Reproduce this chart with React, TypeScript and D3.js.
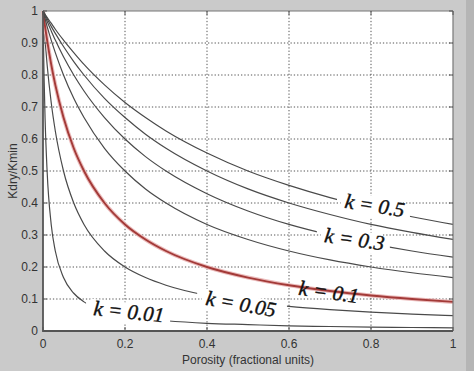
import React, { useEffect, useRef } from "react";
import * as d3 from "d3";

// porosity sample points and Kdry/Kmin
const porosity = [0, 0.0025, 0.005, 0.01, 0.02, 0.03, 0.05, 0.075, 0.1, 0.15, 0.2, 0.25, 0.3, 0.4, 0.5, 0.6, 0.7, 0.8, 0.9, 1];
const kValues = [0.01, 0.05, 0.1, 0.2, 0.3, 0.4, 0.5];
const ratioK001 = [1, 0.8, 0.667, 0.5, 0.333, 0.25, 0.167, 0.118, 0.091, 0.063, 0.048, 0.038, 0.032, 0.024, 0.02, 0.016, 0.014, 0.012, 0.011, 0.01];
const ratioK005 = [1, 0.952, 0.909, 0.833, 0.714, 0.625, 0.5, 0.4, 0.333, 0.25, 0.2, 0.167, 0.143, 0.111, 0.091, 0.077, 0.067, 0.059, 0.053, 0.048];
const ratioK01 = [1, 0.976, 0.952, 0.909, 0.833, 0.769, 0.667, 0.571, 0.5, 0.4, 0.333, 0.286, 0.25, 0.2, 0.167, 0.143, 0.125, 0.111, 0.1, 0.091];
const ratioK02 = [1, 0.988, 0.976, 0.952, 0.909, 0.87, 0.8, 0.727, 0.667, 0.571, 0.5, 0.444, 0.4, 0.333, 0.286, 0.25, 0.222, 0.2, 0.182, 0.167];
const ratioK03 = [1, 0.992, 0.984, 0.968, 0.938, 0.909, 0.857, 0.8, 0.75, 0.667, 0.6, 0.545, 0.5, 0.429, 0.375, 0.333, 0.3, 0.273, 0.25, 0.231];
const ratioK04 = [1, 0.994, 0.988, 0.976, 0.952, 0.93, 0.889, 0.842, 0.8, 0.727, 0.667, 0.615, 0.571, 0.5, 0.444, 0.4, 0.364, 0.333, 0.308, 0.286];
const ratioK05 = [1, 0.995, 0.99, 0.98, 0.962, 0.943, 0.909, 0.87, 0.833, 0.769, 0.714, 0.667, 0.625, 0.556, 0.5, 0.455, 0.417, 0.385, 0.357, 0.333];
const ratios = [ratioK001, ratioK005, ratioK01, ratioK02, ratioK03, ratioK04, ratioK05];

// where each curve is broken to leave room for its label (porosity)
const gapK = [0.01, 0.05, 0.3, 0.5];
const gapFrom = [0.105, 0.376, 0.668, 0.717];
const gapTo = [0.31, 0.595, 0.846, 0.895];

const tickValues = [0, 0.2, 0.4, 0.6, 0.8, 1];
const yTickValues = [0, 0.1, 0.2, 0.3, 0.4, 0.5, 0.6, 0.7, 0.8, 0.9, 1];

// curve labels: text, porosity, ratio at the start of the text, tilt
const labelText = ["k = 0.01", "k = 0.05", "k = 0.1", "k = 0.3", "k = 0.5"];
const labelX = [0.122, 0.395, 0.622, 0.685, 0.734];
const labelY = [0.05, 0.082, 0.113, 0.278, 0.385];
const labelAngle = [6, 10, 8, 8, 9];
const labelBg = [true, true, false, true, true];

const App = () => {
  const svgRef = useRef(null);

  useEffect(() => {
    const width = 474;
    const height = 371;
    const left = 43, right = 453, top = 11, bottom = 331;

    const svg = d3.select(svgRef.current);
    svg.selectAll("*").remove();
    svg.attr("width", width).attr("height", height);

    svg.append("rect").attr("width", width).attr("height", height).attr("fill", "#cacaca");
    svg.append("rect").attr("x", 466).attr("width", 8).attr("height", height).attr("fill", "#b5b5b5");

    const x = d3.scaleLinear().domain([0, 1]).range([left, right]);
    const y = d3.scaleLinear().domain([0, 1]).range([bottom, top]);

    svg.append("rect")
      .attr("x", left).attr("y", top)
      .attr("width", right - left).attr("height", bottom - top)
      .attr("fill", "#ffffff");

    // dotted grid
    const grid = svg.append("g");
    grid.selectAll(".gx")
      .data(tickValues.slice(1, -1))
      .enter().append("line")
      .attr("x1", (d) => x(d)).attr("x2", (d) => x(d))
      .attr("y1", top).attr("y2", bottom)
      .attr("stroke", "#555").attr("stroke-width", 1)
      .attr("stroke-dasharray", "1.3,2");
    grid.selectAll(".gy")
      .data(yTickValues.slice(1, -1))
      .enter().append("line")
      .attr("x1", left).attr("x2", right)
      .attr("y1", (d) => y(d)).attr("y2", (d) => y(d))
      .attr("stroke", "#555").attr("stroke-width", 1)
      .attr("stroke-dasharray", "1.3,2");

    // white patches behind the labels
    const fontSize = 21;
    labelText.forEach((t, i) => {
      if (!labelBg[i]) return;
      const w = t.length * 8.2 + 4;
      svg.append("rect")
        .attr("x", x(labelX[i]) - 4).attr("y", y(labelY[i]) - 16)
        .attr("width", w).attr("height", 21)
        .attr("fill", "#ffffff")
        .attr("transform", `rotate(${labelAngle[i]},${x(labelX[i])},${y(labelY[i])})`);
    });

    // clip paths for broken curves
    const defs = svg.append("defs");
    gapK.forEach((k, i) => {
      const cp = defs.append("clipPath").attr("id", `gap-${i}`);
      cp.append("rect").attr("x", left).attr("y", top - 2)
        .attr("width", x(gapFrom[i]) - left).attr("height", bottom - top + 4);
      cp.append("rect").attr("x", x(gapTo[i])).attr("y", top - 2)
        .attr("width", right - x(gapTo[i])).attr("height", bottom - top + 4);
    });

    const line = d3.line()
      .x((d) => x(d[0]))
      .y((d) => y(d[1]))
      .curve(d3.curveMonotoneX);

    kValues.forEach((k, i) => {
      const pts = porosity.map((p, j) => [p, ratios[i][j]]);
      const gi = gapK.indexOf(k);
      const clip = gi >= 0 ? `url(#gap-${gi})` : null;
      if (k === 0.1) {
        svg.append("path").attr("d", line(pts))
          .attr("fill", "none").attr("stroke", "#ebbcbc").attr("stroke-width", 4);
        svg.append("path").attr("d", line(pts))
          .attr("fill", "none").attr("stroke", "#a33a38").attr("stroke-width", 1.9);
      } else {
        svg.append("path").attr("d", line(pts))
          .attr("fill", "none").attr("stroke", "#4a4a4a").attr("stroke-width", 1.2)
          .attr("clip-path", clip);
      }
    });

    // axes box
    svg.append("line").attr("x1", left).attr("x2", right).attr("y1", top).attr("y2", top)
      .attr("stroke", "#777").attr("stroke-width", 1.2);
    svg.append("line").attr("x1", right).attr("x2", right).attr("y1", top).attr("y2", bottom)
      .attr("stroke", "#777").attr("stroke-width", 1.2);
    svg.append("line").attr("x1", left).attr("x2", left).attr("y1", top).attr("y2", bottom + 1)
      .attr("stroke", "#555").attr("stroke-width", 1.8);
    svg.append("line").attr("x1", left).attr("x2", right).attr("y1", bottom).attr("y2", bottom)
      .attr("stroke", "#555").attr("stroke-width", 1.8);

    // inward ticks on all sides
    const ticks = svg.append("g").attr("stroke", "#555").attr("stroke-width", 1);
    tickValues.forEach((t) => {
      ticks.append("line").attr("x1", x(t)).attr("x2", x(t)).attr("y1", bottom).attr("y2", bottom - 4);
      ticks.append("line").attr("x1", x(t)).attr("x2", x(t)).attr("y1", top).attr("y2", top + 4);
    });
    yTickValues.forEach((t) => {
      ticks.append("line").attr("x1", left).attr("x2", left + 4).attr("y1", y(t)).attr("y2", y(t));
      ticks.append("line").attr("x1", right).attr("x2", right - 4).attr("y1", y(t)).attr("y2", y(t));
    });

    const sans = "'Liberation Sans', Arial, sans-serif";
    svg.selectAll(".xt")
      .data(tickValues)
      .enter().append("text")
      .attr("x", (d) => x(d)).attr("y", 348)
      .attr("text-anchor", "middle")
      .attr("fill", "#333").style("font-size", "12px").style("font-family", sans)
      .text((d) => String(d));
    svg.selectAll(".yt")
      .data(yTickValues)
      .enter().append("text")
      .attr("x", 38).attr("y", (d) => y(d) + 4)
      .attr("text-anchor", "end")
      .attr("fill", "#333").style("font-size", "12px").style("font-family", sans)
      .text((d) => String(d));

    svg.append("text")
      .attr("x", (left + right) / 2).attr("y", 364)
      .attr("text-anchor", "middle")
      .attr("fill", "#333").style("font-size", "12px").style("font-family", sans)
      .text("Porosity (fractional units)");
    svg.append("text")
      .attr("transform", `translate(17,${(top + bottom) / 2}) rotate(-90)`)
      .attr("text-anchor", "middle")
      .attr("fill", "#333").style("font-size", "12px").style("font-family", sans)
      .text("Kdry/Kmin");

    // curve labels
    labelText.forEach((t, i) => {
      svg.append("text")
        .attr("x", x(labelX[i])).attr("y", y(labelY[i]))
        .attr("transform", `rotate(${labelAngle[i]},${x(labelX[i])},${y(labelY[i])})`)
        .attr("fill", "#111")
        .attr("stroke", "#111").attr("stroke-width", 0.4)
        .attr("font-size", fontSize)
        .attr("font-style", "italic")
        .attr("font-family", "Liberation Serif, Times New Roman, serif")
        .text(t);
    });
  }, []);

  return <svg ref={svgRef} style={{ position: "absolute", left: 0, top: 0 }}></svg>;
};

export default App;
